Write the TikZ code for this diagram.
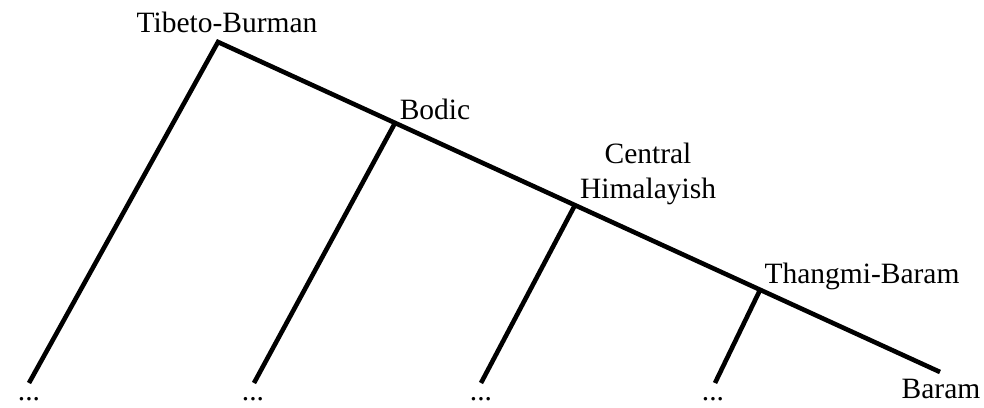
\documentclass[tikz,border=0pt]{standalone}
\usepackage{fontspec}
\setmainfont{Liberation Serif}
\begin{document}
\begin{tikzpicture}[x=1pt,y=-1pt,
  branch/.style={line width=4.6pt,line join=miter},
  lbl/.style={inner sep=0pt,anchor=base,font=\fontsize{29.5}{31}\selectfont},
  leaf/.style={inner sep=0pt,anchor=base,font=\fontsize{29.5}{31}\selectfont}]
\useasboundingbox (0,0) rectangle (984,407);
% junctions
\coordinate (tb) at (218,42);
\coordinate (bo) at (395,123);
\coordinate (ch) at (575,205);
\coordinate (th) at (760,290);
\coordinate (ba) at (940,372);
% leaf ends
\coordinate (e1) at (29,383);
\coordinate (e2) at (254,383);
\coordinate (e3) at (481,383);
\coordinate (e4) at (715,383);
% labels
\node[lbl] (ltb) at (227,32) {Tibeto-Burman};
\node[lbl] (lbo) at (435,119) {Bodic};
\node[lbl,align=center,anchor=base] (lch) at (648,198) {Central\\[4pt]Himalayish};
\node[lbl] (lth) at (862,283) {Thangmi-Baram};
\node[lbl] (lba) at (941,398) {Baram};
\node[leaf] (d1) at (29,400) {...};
\node[leaf] (d2) at (253,400) {...};
\node[leaf] (d3) at (481,400) {...};
\node[leaf] (d4) at (713,400) {...};
% branches
\draw[branch] (e1) -- (tb) -- (ba);
\draw[branch] (bo) -- (e2);
\draw[branch] (ch) -- (e3);
\draw[branch] (th) -- (e4);
\end{tikzpicture}
\end{document}
